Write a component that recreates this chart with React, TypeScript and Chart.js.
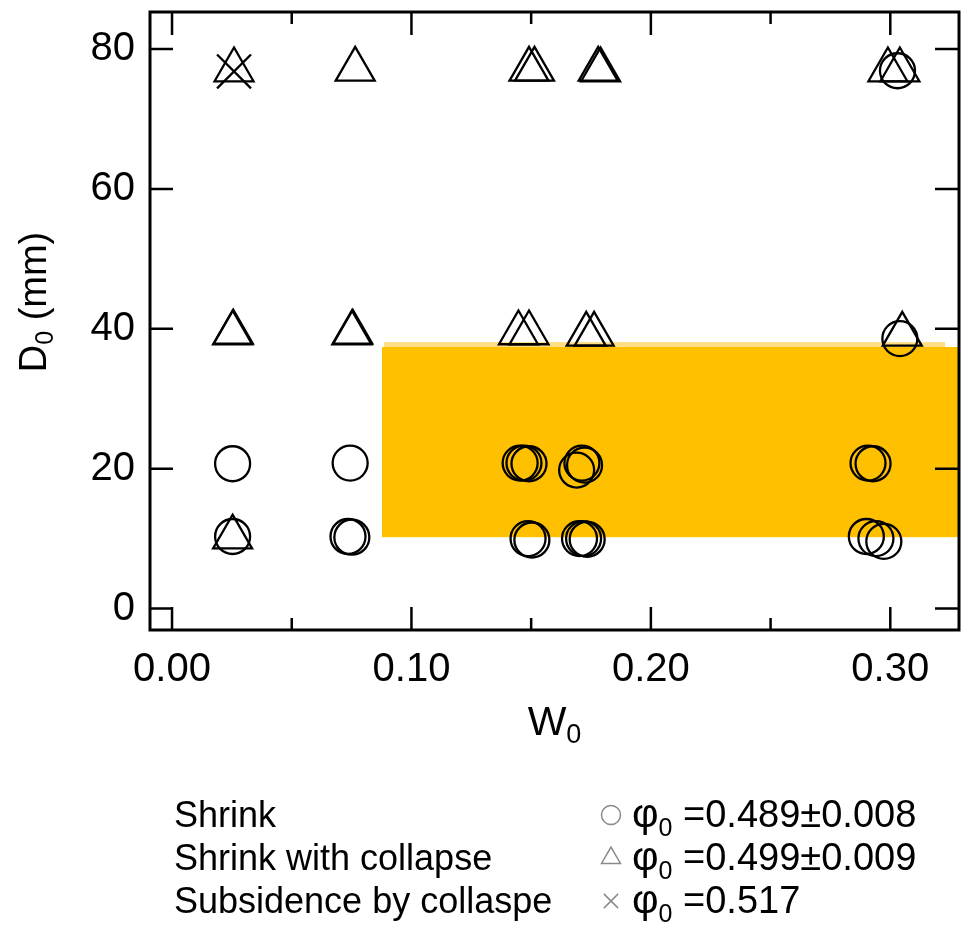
import React, { useEffect, useRef } from 'react';
import { Chart, registerables } from 'chart.js';

Chart.register(...registerables);

// Shrink (circles)
const shrinkW = [
  0.303, 0.304,
  0.0253, 0.0744, 0.1454, 0.147, 0.1491, 0.169, 0.1712, 0.1723, 0.2907, 0.2928,
  0.0253, 0.0735, 0.0751, 0.1487, 0.1503, 0.1702, 0.1719, 0.1734, 0.29, 0.294, 0.2973,
];
const shrinkD = [
  76.9, 38.6,
  20.7, 20.8, 20.8, 20.8, 20.7, 19.8, 20.8, 20.5, 20.8, 20.7,
  10.3, 10.3, 10.2, 10.0, 9.8, 10.0, 10.0, 9.9, 10.3, 10.0, 9.6,
];

// Shrink with collapse (triangles)
const collapseW = [
  0.0259, 0.0765, 0.1491, 0.1514, 0.178, 0.179, 0.299, 0.304,
  0.0253, 0.0256, 0.0751, 0.0755, 0.1447, 0.1491, 0.173, 0.1763, 0.305,
  0.0253,
];
const collapseD = [
  77.0, 77.1, 77.1, 77.1, 77.1, 77.0, 77.0, 77.0,
  39.4, 39.5, 39.4, 39.5, 39.4, 39.4, 39.2, 39.2, 39.2,
  10.2,
];

// Subsidence by collapse (crosses)
const subsidenceW = [0.0259];
const subsidenceD = [76.8];

const legendNames = ['Shrink', 'Shrink with collapse', 'Subsidence by collaspe'];
const legendPhi = ['=0.489\u00B10.008', '=0.499\u00B10.009', '=0.517'];
const legendStyles = ['circle', 'triangle', 'crossRot'];

// Shaded region (W0 from, W0 to) x (D0 from, D0 to)
const bandW = [0.0877, 0.3287];
const bandD = [10.2, 37.4];
const bandEdgeW = 0.3229;
const bandEdgeD = 38.1;

const xRange = [-0.0092, 0.3287];
const yRange = [-3.07, 85.3];

const FONT = '"Liberation Sans", Arial, Helvetica, sans-serif';

const toPoints = (xs: number[], ys: number[]) => xs.map((x, i) => ({ x, y: ys[i] }));

type Part = { t: string; size: number; dy: number };

function drawParts(ctx: CanvasRenderingContext2D, parts: Part[], x: number, y: number, align: 'left' | 'center') {
  ctx.textBaseline = 'alphabetic';
  ctx.textAlign = 'left';
  const widths = parts.map((p) => {
    ctx.font = `${p.size}px ${FONT}`;
    return ctx.measureText(p.t).width;
  });
  const total = widths.reduce((a, b) => a + b, 0);
  let cx = align === 'center' ? x - total / 2 : x;
  parts.forEach((p, i) => {
    ctx.font = `${p.size}px ${FONT}`;
    ctx.fillText(p.t, cx, y + p.dy);
    cx += widths[i];
  });
}

function drawSymbol(ctx: CanvasRenderingContext2D, style: string, x: number, y: number, r: number) {
  ctx.beginPath();
  if (style === 'circle') {
    ctx.arc(x, y, r, 0, Math.PI * 2);
  } else if (style === 'triangle') {
    const R = r * 1.15;
    ctx.moveTo(x, y - R);
    ctx.lineTo(x + R * 0.866, y + R * 0.5);
    ctx.lineTo(x - R * 0.866, y + R * 0.5);
    ctx.closePath();
  } else {
    const d = r * 0.75;
    ctx.moveTo(x - d, y - d);
    ctx.lineTo(x + d, y + d);
    ctx.moveTo(x + d, y - d);
    ctx.lineTo(x - d, y + d);
  }
  ctx.stroke();
}

const noPadding = (s: any) => {
  s.paddingTop = 0;
  s.paddingBottom = 0;
  s.paddingLeft = 0;
  s.paddingRight = 0;
};

const framePlugin = {
  id: 'frame',
  beforeDatasetsDraw(chart: any) {
    const { ctx, scales } = chart;
    const x = scales.x;
    const y = scales.y;
    const l = x.getPixelForValue(bandW[0]);
    const r = x.getPixelForValue(bandW[1]);
    const t = y.getPixelForValue(bandD[1]);
    const b = y.getPixelForValue(bandD[0]);
    ctx.save();
    ctx.fillStyle = 'rgba(255, 200, 50, 0.6)';
    const te = y.getPixelForValue(bandEdgeD);
    ctx.fillRect(l + 2, te, x.getPixelForValue(bandEdgeW) - l - 2, t - te);
    ctx.fillStyle = '#FFC000';
    ctx.fillRect(l, t, r - l, b - t);
    ctx.restore();
  },
  afterDraw(chart: any) {
    const { ctx, chartArea: ca, scales } = chart;
    const x = scales.x;
    const y = scales.y;
    ctx.save();
    ctx.strokeStyle = '#000';
    ctx.lineWidth = 2.5;
    ctx.lineCap = 'butt';
    // inward ticks, bottom and top
    x.ticks.forEach((tk: any) => {
      const px = x.getPixelForValue(tk.value);
      const len = tk.label !== '' ? 23 : 12;
      ctx.beginPath();
      ctx.moveTo(px, ca.bottom);
      ctx.lineTo(px, ca.bottom - len);
      ctx.moveTo(px, ca.top);
      ctx.lineTo(px, ca.top + len);
      ctx.stroke();
    });
    // inward ticks, left and right
    y.ticks.forEach((tk: any) => {
      const py = y.getPixelForValue(tk.value);
      ctx.beginPath();
      ctx.moveTo(ca.left, py);
      ctx.lineTo(ca.left + 23, py);
      ctx.moveTo(ca.right, py);
      ctx.lineTo(ca.right - 24, py);
      ctx.stroke();
    });
    // frame
    ctx.lineWidth = 3;
    ctx.strokeRect(ca.left, ca.top, ca.right - ca.left, ca.bottom - ca.top);

    ctx.fillStyle = '#000';
    // x title
    drawParts(
      ctx,
      [
        { t: 'W', size: 41, dy: 0 },
        { t: '0', size: 27, dy: 8 },
      ],
      (ca.left + ca.right) / 2,
      735,
      'center'
    );
    // y title
    ctx.save();
    ctx.translate(46, 302);
    ctx.rotate(-Math.PI / 2);
    drawParts(
      ctx,
      [
        { t: 'D', size: 38, dy: 0 },
        { t: '0', size: 25, dy: 7 },
        { t: ' (mm)', size: 38, dy: 0 },
      ],
      0,
      0,
      'center'
    );
    ctx.restore();

    // legend
    const rows = [827, 870, 913];
    legendNames.forEach((name, i) => {
      ctx.fillStyle = '#000';
      drawParts(ctx, [{ t: name, size: 36, dy: 0 }], 174, rows[i], 'left');
      ctx.strokeStyle = '#8a8a8a';
      ctx.lineWidth = 1.5;
      drawSymbol(ctx, legendStyles[i], 611, rows[i] - 12, 9.5);
      ctx.fillStyle = '#000';
      drawParts(
        ctx,
        [
          { t: '\u03C6', size: 41, dy: 0 },
          { t: '0', size: 25, dy: 9 },
          { t: ' ' + legendPhi[i], size: 38, dy: 0 },
        ],
        632,
        rows[i],
        'left'
      );
    });
    ctx.restore();
  },
};

export default function App() {
  const ref = useRef<HTMLCanvasElement | null>(null);

  useEffect(() => {
    if (!ref.current) return;
    const marker = {
      borderColor: '#000',
      backgroundColor: 'rgba(0,0,0,0)',
      borderWidth: 2.3,
      showLine: false,
      clip: false as any,
    };
    const chart = new Chart(ref.current, {
      type: 'scatter',
      data: {
        datasets: [
          { ...marker, label: 'Shrink', data: toPoints(shrinkW, shrinkD), pointStyle: 'circle', pointRadius: 17.5 },
          {
            ...marker,
            label: 'Shrink with collapse',
            data: toPoints(collapseW, collapseD),
            pointStyle: 'triangle',
            pointRadius: 22.5,
          },
          {
            ...marker,
            label: 'Subsidence by collaspe',
            data: toPoints(subsidenceW, subsidenceD),
            pointStyle: 'crossRot',
            pointRadius: 24,
          },
        ],
      },
      options: {
        animation: false,
        responsive: false,
        devicePixelRatio: 1,
        events: [],
        layout: { autoPadding: false, padding: { left: 0, top: 12, right: 4, bottom: 0 } },
        plugins: { legend: { display: false }, tooltip: { enabled: false }, title: { display: false } },
        scales: {
          x: {
            type: 'linear',
            min: xRange[0],
            max: xRange[1],
            grid: { display: false, drawTicks: false },
            border: { display: false },
            ticks: {
              stepSize: 0.05,
              includeBounds: false,
              autoSkip: false,
              maxRotation: 0,
              padding: 16,
              color: '#000',
              font: { family: FONT, size: 40 },
              callback: (v: any) => {
                const k = Math.round(Number(v) * 20);
                return k % 2 === 0 ? Number(v).toFixed(2) : '';
              },
            },
            afterFit: (s: any) => {
              s.height = 296;
              noPadding(s);
            },
          },
          y: {
            type: 'linear',
            min: yRange[0],
            max: yRange[1],
            grid: { display: false, drawTicks: false },
            border: { display: false },
            ticks: {
              stepSize: 20,
              includeBounds: false,
              padding: 15,
              color: '#000',
              font: { family: FONT, size: 40 },
            },
            afterFit: (s: any) => {
              s.width = 150;
              noPadding(s);
            },
          },
        },
      },
      plugins: [framePlugin],
    });
    return () => chart.destroy();
  }, []);

  return (
    <div style={{ position: 'fixed', left: 0, top: 0, width: 963, height: 926, background: '#fff' }}>
      <canvas ref={ref} width={963} height={926} style={{ width: 963, height: 926, display: 'block' }} />
    </div>
  );
}
